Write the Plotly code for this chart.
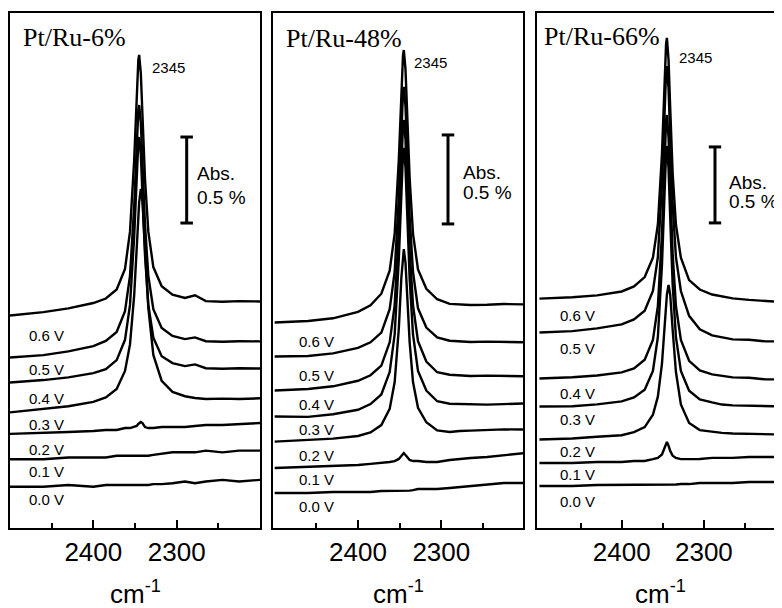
import plotly.graph_objects as go

# ---------------- data ----------------
# wavenumber grid (cm-1), shared by all spectra
wavenumber = [2500, 2460, 2430, 2400, 2385, 2372, 2362, 2356, 2351, 2348, 2346, 2345,
              2343, 2341, 2338, 2334, 2328, 2318, 2305, 2290, 2278, 2265, 2245, 2225, 2200]

potentials = ["0.0 V", "0.1 V", "0.2 V", "0.3 V", "0.4 V", "0.5 V", "0.6 V"]

# stacked (offset) absorbance spectra, in units of 0.01 % absorbance
ru6_00 = [24, 24, 25, 24, 25, 25, 25, 25, 25, 25, 25, 25, 25, 25, 25, 25, 25.5, 25.5, 26, 27, 26, 27, 28, 27, 28]
ru6_01 = [40, 40, 41, 41, 41, 42, 42, 42, 42, 42, 42, 42, 42, 42, 42, 42, 42.5, 43, 44, 44, 44, 45, 44, 45, 45]
ru6_02 = [54.7, 55.2, 55.8, 56.4, 57, 57, 58.1, 58.1, 58.7, 59.3, 60.5, 61, 61.6, 61, 58.7, 58.1, 58.1,
          58.7, 58.7, 58.7, 59.3, 59.9, 59.9, 60.5, 61]
ru6_03 = [67.2, 69.2, 70.8, 73.3, 75.9, 80.8, 91.3, 106.7, 135.2, 162.2, 182, 189.5, 197.1, 189.5, 162.2,
          127.9, 100.6, 85.5, 79.1, 76.6, 75.6, 75, 75.2, 75, 75.4]
ru6_04 = [84.6, 86, 87.6, 90, 92.4, 97.6, 109.4, 129.7, 169.2, 206, 224.6, 227.3, 217, 193.6, 158.7,
          129.7, 110.6, 99.9, 95.9, 94.1, 95.1, 92.9, 92.6, 92.9, 92.7]
ru6_05 = [99.1, 100.5, 102.7, 105.7, 108.8, 114, 126, 146.6, 186.7, 224.3, 243.1, 245.9, 235.5, 211.6,
          176.2, 146.6, 127.2, 116.3, 111.7, 109.8, 110.8, 108.6, 108.3, 108.6, 108.5]
ru6_06 = [123.5, 125.5, 127.7, 130.8, 133.4, 138.7, 150.6, 172.3, 213.8, 252.7, 272.1, 275, 264.2, 239.5,
          202.9, 172.3, 151.7, 140.5, 135.7, 133.7, 135.3, 131.9, 131.5, 131.9, 131.7]

ru48_00 = [19.7, 19.7, 20.2, 20.2, 20.2, 20.8, 20.8, 20.8, 20.8, 21, 21, 21, 21, 21, 21, 21.3,
           21.9, 21.9, 21.9, 22.5, 23, 23.6, 24.2, 25.3, 25.3]
ru48_01 = [33.7, 34.3, 34.8, 35.4, 36, 36.5, 37.1, 37.6, 38.8, 40.4, 41.6, 42.1, 41, 39.9, 38.2, 37.6,
           37.6, 37.1, 37.1, 38.2, 38.8, 39.3, 39.9, 41, 42.1]
ru48_02 = [48.5, 49.3, 50.2, 51.7, 53.7, 57.8, 66.9, 82, 112.2, 140.4, 154.7, 156.7, 148.9, 130.9, 104.2,
           82, 67.5, 59.4, 54.8, 53.9, 54.5, 54.7, 55, 55.4, 55.3]
ru48_03 = [62.6, 62.4, 63.9, 66.4, 69.6, 75, 87.6, 108.7, 151.1, 190.7, 210.6, 213.5, 202.5, 177.2, 139.9,
           108.7, 88.2, 77.2, 71.2, 69.8, 69.6, 69.7, 69.3, 69.6, 70]
ru48_04 = [77.2, 78.1, 79.6, 82.7, 85.8, 91.2, 104.3, 125.2, 167.3, 206.6, 226.3, 229.2, 218.3, 193.3,
           156.2, 125.2, 104.9, 93.5, 87.5, 86.1, 85.8, 85.4, 85.6, 85.3, 85.2]
ru48_05 = [96.3, 96.6, 98.1, 101.2, 104.3, 109.8, 122.9, 143.8, 185.8, 225.1, 244.8, 247.8, 236.8, 211.8,
           174.7, 143.8, 123.4, 112.6, 107.1, 105.2, 104.9, 104.5, 104.7, 104.4, 104.3]
ru48_06 = [115.4, 116.3, 117.8, 121.4, 125.1, 131.6, 144.6, 165.3, 207.1, 246.1, 265.6, 268.5, 257.7,
           232.9, 196.1, 165.3, 145.2, 134.4, 128.5, 125.9, 125.7, 125.3, 125.4, 125.8, 125.6]

ru66_00 = [27.6, 27.6, 28.3, 28.3, 28.3, 28.3, 28.3, 28.6, 28.6, 28.6, 28.6, 28.6, 28.6, 28.6, 28.6, 28.6,
           28.9, 28.9, 29.6, 29.6, 29.6, 29.6, 30.3, 30.3, 30.3]
ru66_01 = [42.8, 42.8, 43.4, 43.4, 44.1, 44.1, 45.3, 46.1, 48.4, 52.3, 55.9, 56.6, 54.2, 50.7, 47.6, 46.1,
           45.3, 45.4, 45.4, 46.1, 46.1, 46.1, 46.7, 46.7, 46.7]
ru66_02 = [58.2, 58.9, 60, 61, 63.1, 66.4, 74.5, 86.4, 108.2, 130.4, 146.7, 153.6, 159.9, 153.6, 130.4,
           102.6, 81.3, 69.1, 64.4, 63.2, 62.6, 62.2, 61.8, 61.6, 61.4]
ru66_03 = [79.9, 80.1, 81.3, 83.3, 85.9, 90.9, 103.3, 125.5, 173.2, 221.4, 247.4, 251.3, 236.6, 204.6,
           160.2, 125.5, 103.3, 90.3, 84.6, 82.6, 81.2, 80.7, 80.3, 80.1, 79.9]
ru66_04 = [98.4, 99.2, 100.3, 102.4, 105, 110.7, 123.7, 145.9, 193.6, 241.8, 267.8, 271.7, 257, 225,
           180.6, 145.9, 123.7, 110, 103.7, 101.1, 100.3, 99.1, 98.8, 97.8, 97.7]
ru66_05 = [128.6, 129.5, 131.3, 133.9, 137.2, 142.9, 155.9, 178.2, 225.9, 274.1, 300.1, 303.9, 289.2,
           257.2, 212.8, 178.2, 155.9, 139.6, 130.7, 126.7, 125.3, 124.1, 123.8, 122.8, 122.7]
ru66_06 = [150.9, 151.8, 153, 155.6, 158.9, 165.1, 177.8, 199.5, 246.1, 293.2, 318.6, 322.4, 308, 276.8,
           233.4, 199.5, 177.8, 163.1, 156.9, 153.6, 152.2, 151.1, 150.1, 149.1, 148.4]

panel_names = ["Pt/Ru-6%", "Pt/Ru-48%", "Pt/Ru-66%"]
peak_label = "2345"
scale_bar_value = 50  # 0.5 % absorbance in units of 0.01 %
x_ticks = [2400, 2300]
x_minor_ticks = [2450, 2350, 2250]

spectra = [
    [ru6_00, ru6_01, ru6_02, ru6_03, ru6_04, ru6_05, ru6_06],
    [ru48_00, ru48_01, ru48_02, ru48_03, ru48_04, ru48_05, ru48_06],
    [ru66_00, ru66_01, ru66_02, ru66_03, ru66_04, ru66_05, ru66_06],
]

# ---------------- layout / style ----------------
OFF = 8                      # page body margin of the html page
W, H = 782 - OFF, 608 - OFF  # figure size
TOP, BOT = 13, 528           # plot area top / bottom on the page (px)
MT, MB = TOP - OFF, H - (BOT - OFF)
PH = BOT - TOP

SANS = "Liberation Sans, Arial, Helvetica, sans-serif"
SERIF = "Liberation Serif, Times New Roman, serif"

x_domains_px = [(10, 260), (273, 523), (537, 782)]   # page px
x_ranges = [[2500, 2200], [2502, 2202], [2503, 2205]]
y_ranges = [[0, 299.4], [0, 289.3], [0, 338.8]]

# label positions (wavenumber, abs units) for the potential labels
label_x = [2480, 2473, 2477]
label_y = [
    [16.3, 32.6, 45.9, 59.9, 75, 91.9, 112.2],
    [12, 27, 41, 55.1, 69.1, 85.6, 104.7],
    [17.3, 34.9, 50.2, 71.1, 88.6, 118.2, 140.1],
]
# scale bar positions (wavenumber, bottom in abs units)
bar_x = [2288, 2292, 2286.5]
bar_bottom = [177.3, 170.8, 200.7]
bar_cap = 7.5

# text positions in page px (left x, middle y)
title_px = [(21, 37), (284, 39), (542, 36)]
peak_px = [(150, 68), (412, 63), (677, 58)]
abs_px = [(195, 173), (461, 172), (727, 182)]
pct_px = [(195, 197), (461, 193), (727, 202)]
unit_center_x = [135, 398, 660]
unit_y_px = 592


def paper(xp, yp):
    return (xp - OFF) / W, (BOT - yp) / PH


fig = go.Figure()
annotations = []
shapes = []

for p in range(3):
    sfx = "" if p == 0 else str(p + 1)
    xa, ya = "x" + sfx, "y" + sfx
    for i, pot in enumerate(potentials):
        fig.add_trace(go.Scatter(
            x=wavenumber, y=spectra[p][i], mode="lines",
            line=dict(color="black", width=2.4),
            xaxis=xa, yaxis=ya, showlegend=False, name=f"{panel_names[p]} {pot}",
        ))
        annotations.append(dict(
            x=label_x[p], y=label_y[p][i], xref=xa, yref=ya, text=pot, showarrow=False,
            xanchor="left", yanchor="middle", font=dict(family=SANS, size=15, color="black"),
        ))
    d0, d1 = x_domains_px[p]
    fig.layout["xaxis" + sfx] = dict(
        domain=[(d0 - OFF) / W, min(1.0, (d1 - OFF) / W)], range=x_ranges[p], anchor=ya,
        showline=True, linewidth=2, linecolor="black", mirror=True,
        ticks="inside", ticklen=8, tickwidth=2, tickcolor="black",
        tickvals=x_ticks, ticktext=[str(t) for t in x_ticks],
        tickfont=dict(family=SANS, size=26, color="black"),
        showgrid=False, zeroline=False,
        minor=dict(tickvals=x_minor_ticks, ticks="inside", ticklen=5, tickwidth=2,
                   tickcolor="black", showgrid=False),
    )
    fig.layout["yaxis" + sfx] = dict(
        domain=[0, 1], range=y_ranges[p], anchor=xa,
        showline=True, linewidth=2, linecolor="black", mirror=(p < 2),
        showticklabels=False, ticks="", showgrid=False, zeroline=False,
    )
    # scale bar
    b0 = bar_bottom[p]
    b1 = b0 + scale_bar_value
    bx = bar_x[p]
    for (xx0, yy0, xx1, yy1) in [(bx, b0, bx, b1), (bx + bar_cap, b0, bx - bar_cap, b0),
                                 (bx + bar_cap, b1, bx - bar_cap, b1)]:
        shapes.append(dict(type="line", xref=xa, yref=ya, x0=xx0, y0=yy0, x1=xx1, y1=yy1,
                           line=dict(color="black", width=3)))
    # texts
    tx, ty = paper(*title_px[p])
    annotations.append(dict(x=tx, y=ty, xref="paper", yref="paper", text=panel_names[p],
                            showarrow=False, xanchor="left", yanchor="middle",
                            font=dict(family=SERIF, size=26, color="black")))
    tx, ty = paper(*peak_px[p])
    annotations.append(dict(x=tx, y=ty, xref="paper", yref="paper", text=peak_label,
                            showarrow=False, xanchor="left", yanchor="middle",
                            font=dict(family=SANS, size=15, color="black")))
    tx, ty = paper(*abs_px[p])
    annotations.append(dict(x=tx, y=ty, xref="paper", yref="paper", text="Abs.",
                            showarrow=False, xanchor="left", yanchor="middle",
                            font=dict(family=SANS, size=19, color="black")))
    tx, ty = paper(*pct_px[p])
    annotations.append(dict(x=tx, y=ty, xref="paper", yref="paper", text="0.5 %",
                            showarrow=False, xanchor="left", yanchor="middle",
                            font=dict(family=SANS, size=19, color="black")))
    tx, ty = paper(unit_center_x[p], unit_y_px)
    annotations.append(dict(x=tx, y=ty, xref="paper", yref="paper", text="cm<sup>-1</sup>",
                            showarrow=False, xanchor="center", yanchor="middle",
                            font=dict(family=SANS, size=26, color="black")))

fig.update_layout(
    width=W, height=H,
    margin=dict(l=0, r=0, t=MT, b=MB, pad=0),
    paper_bgcolor="white", plot_bgcolor="white",
    annotations=annotations, shapes=shapes,
    showlegend=False,
)

fig.write_html("out.html")
